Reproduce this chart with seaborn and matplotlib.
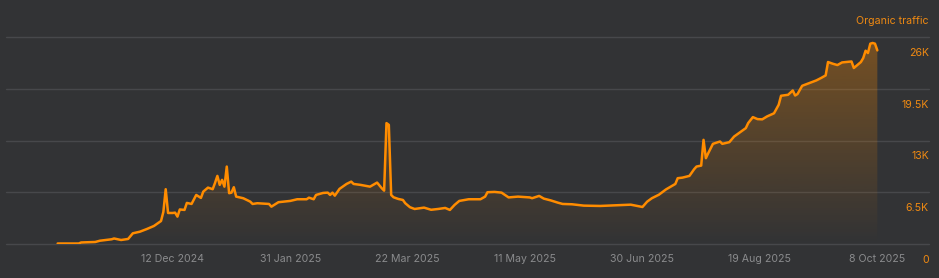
import numpy as np
import pandas as pd
import matplotlib
matplotlib.use("Agg")
import matplotlib.pyplot as plt
import matplotlib.transforms as mtransforms
import seaborn as sns

dates = [
    "2024-10-24", "2024-11-02", "2024-11-03", "2024-11-09", "2024-11-11", "2024-11-16",
    "2024-11-17", "2024-11-20", "2024-11-23", "2024-11-25", "2024-11-28", "2024-12-01",
    "2024-12-04", "2024-12-07", "2024-12-08", "2024-12-09", "2024-12-10", "2024-12-12",
    "2024-12-13", "2024-12-14", "2024-12-15", "2024-12-17", "2024-12-18", "2024-12-20",
    "2024-12-22", "2024-12-24", "2024-12-25", "2024-12-27", "2024-12-29", "2024-12-30",
    "2024-12-31", "2025-01-01", "2025-01-02", "2025-01-03", "2025-01-04", "2025-01-05",
    "2025-01-06", "2025-01-07", "2025-01-08", "2025-01-11", "2025-01-14", "2025-01-15",
    "2025-01-17", "2025-01-22", "2025-01-23", "2025-01-26", "2025-01-31", "2025-02-03",
    "2025-02-07", "2025-02-08", "2025-02-10", "2025-02-11", "2025-02-14", "2025-02-16",
    "2025-02-17", "2025-02-18", "2025-02-19", "2025-02-21", "2025-02-24", "2025-02-26",
    "2025-02-27", "2025-03-02", "2025-03-06", "2025-03-09", "2025-03-11", "2025-03-12",
    "2025-03-13", "2025-03-14", "2025-03-15", "2025-03-16", "2025-03-18", "2025-03-20",
    "2025-03-21", "2025-03-23", "2025-03-25", "2025-03-29", "2025-04-01", "2025-04-04",
    "2025-04-07", "2025-04-09", "2025-04-11", "2025-04-13", "2025-04-17", "2025-04-22",
    "2025-04-24", "2025-04-25", "2025-04-28", "2025-05-01", "2025-05-04", "2025-05-08",
    "2025-05-13", "2025-05-14", "2025-05-17", "2025-05-19", "2025-05-22", "2025-05-25",
    "2025-05-27", "2025-05-31", "2025-06-05", "2025-06-12", "2025-06-19", "2025-06-25",
    "2025-06-30", "2025-07-02", "2025-07-04", "2025-07-07", "2025-07-10", "2025-07-14",
    "2025-07-15", "2025-07-17", "2025-07-20", "2025-07-22", "2025-07-23", "2025-07-25",
    "2025-07-26", "2025-07-27", "2025-07-28", "2025-07-30", "2025-08-02", "2025-08-03",
    "2025-08-06", "2025-08-08", "2025-08-11", "2025-08-13", "2025-08-14", "2025-08-16",
    "2025-08-18", "2025-08-20", "2025-08-22", "2025-08-25", "2025-08-27", "2025-08-28",
    "2025-08-31", "2025-09-02", "2025-09-03", "2025-09-04", "2025-09-06", "2025-09-09",
    "2025-09-12", "2025-09-14", "2025-09-16", "2025-09-17", "2025-09-19", "2025-09-21",
    "2025-09-23", "2025-09-27", "2025-09-28", "2025-10-01", "2025-10-02", "2025-10-03",
    "2025-10-04", "2025-10-05", "2025-10-06", "2025-10-07", "2025-10-08",
]

traffic = [
    100, 100, 230, 290, 450, 630,
    730, 540, 670, 1380, 1580, 1920,
    2300, 2920, 4060, 6910, 3930, 3930,
    3970, 3470, 4370, 4310, 5190, 5060,
    6190, 5820, 6610, 7110, 6910, 7700,
    8580, 7450, 8080, 7230, 9750, 6410,
    6480, 7160, 5980, 5780, 5350, 5060,
    5150, 5060, 4720, 5280, 5440, 5650,
    5650, 5850, 5650, 6190, 6440, 6480,
    6190, 6480, 6100, 6950, 7570, 7860,
    7570, 7450, 7230, 7740, 7030, 6730,
    15200, 14980, 6190, 5900, 5690, 5560,
    5150, 4650, 4430, 4600, 4330, 4430,
    4560, 4310, 4940, 5440, 5650, 5650,
    5980, 6530, 6570, 6480, 5880, 5980,
    5880, 5780, 6070, 5730, 5500, 5220,
    5060, 5020, 4850, 4810, 4900, 4970,
    4680, 5350, 5780, 6220, 6880, 7570,
    8290, 8360, 8580, 9420, 9750, 9870,
    13100, 10800, 11430, 12600, 12890, 12600,
    12810, 13510, 14140, 14570, 15200, 15950,
    15700, 15670, 16030, 16430, 17500, 18630,
    18750, 19290, 18660, 18840, 19880, 20220,
    20550, 20850, 21180, 22860, 22650, 22480,
    22810, 22930, 22110, 22860, 23360, 24280,
    23990, 25160, 25250, 25160, 24320,
]

x_tick_dates = ["2024-12-12", "2025-01-31", "2025-03-22", "2025-05-11",
                "2025-06-30", "2025-08-19", "2025-10-08"]
x_tick_labels = ["12 Dec 2024", "31 Jan 2025", "22 Mar 2025", "11 May 2025",
                 "30 Jun 2025", "19 Aug 2025", "8 Oct 2025"]
y_ticks = [0, 6500, 13000, 19500, 26000]
y_tick_labels = ["0", "6.5K", "13K", "19.5K", "26K"]
series_name = "Organic traffic"

BG = "#323335"
GRID = "#47484b"
ORANGE = "#ff8c00"
LABEL_ORANGE = "#f08a12"
XLABEL = "#8a8b8d"
FS = 7.6

sns.set_theme(style="dark")
plt.rcParams["font.family"] = ["Inter", "DejaVu Sans"]

W, H = 939, 278
fig = plt.figure(figsize=(W / 100, H / 100), dpi=100, facecolor=BG)
ax_left, ax_right = 6, 929
ax_bottom, ax_top = 244.3, 33.0
ax = fig.add_axes([ax_left / W, 1 - ax_bottom / H, (ax_right - ax_left) / W,
                   (ax_bottom - ax_top) / H])
ax.set_facecolor(BG)

df = pd.DataFrame({"date": pd.to_datetime(dates), "traffic": traffic})

ymax = 26500
ax.set_ylim(0, ymax)
ax.set_xlim(pd.Timestamp("2024-10-02"), pd.Timestamp("2025-10-30"))

# gradient fill under the line
poly = ax.fill_between(df["date"], df["traffic"], 0, color="none", lw=0)
grad = np.zeros((256, 1, 4))
grad[..., 0] = 1.0
grad[..., 1] = 140 / 255
grad[..., 2] = 0.0
grad[:, 0, 3] = np.linspace(0.34, 0.0, 256)
x0, x1 = ax.get_xlim()
im = ax.imshow(grad, extent=[x0, x1, 0, 26000], aspect="auto", origin="upper",
               zorder=1, interpolation="bilinear")
im.set_clip_path(poly.get_paths()[0], transform=ax.transData)
ax.set_xlim(x0, x1)
ax.set_ylim(0, ymax)

sns.lineplot(data=df, x="date", y="traffic", ax=ax, color=ORANGE, lw=1.8, zorder=3)

ax.set_yticks(y_ticks)
ax.tick_params(axis="y", labelleft=False, length=0)
ax.grid(axis="y", color=GRID, lw=1.0)
ax.grid(axis="x", visible=False)
for gl in ax.get_ygridlines():
    gl.set_clip_on(False)

ax.set_xticks(pd.to_datetime(x_tick_dates))
ax.set_xticklabels(x_tick_labels)
ax.tick_params(axis="x", length=0, pad=7, labelsize=FS, labelcolor=XLABEL)
ax.set_xlabel("")
ax.set_ylabel("")
for s in ax.spines.values():
    s.set_visible(False)

trans = mtransforms.blended_transform_factory(ax.transAxes, ax.transData)
trans = mtransforms.offset_copy(trans, fig=fig, x=0, y=-15.7, units="dots")
for v, lab in zip(y_ticks, y_tick_labels):
    ax.text(1.0, v, lab, transform=trans, ha="right", va="center",
            fontsize=FS, color=LABEL_ORANGE, clip_on=False)

fig.text(ax_right / W, 1 - 21 / H, series_name, ha="right", va="center",
         fontsize=FS, color=LABEL_ORANGE)

fig.savefig("out.png", dpi=100, facecolor=BG)
